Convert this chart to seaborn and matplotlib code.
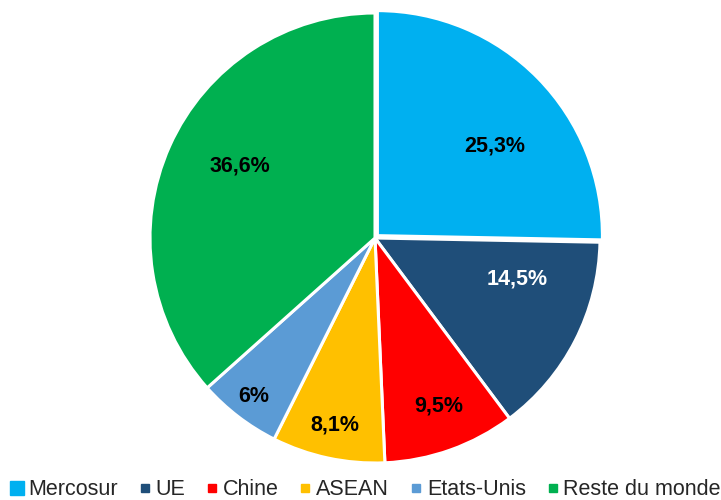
import matplotlib
matplotlib.use('Agg')
import matplotlib.pyplot as plt
import seaborn as sns
import numpy as np
from matplotlib.lines import Line2D

regions = ['Mercosur', 'UE', 'Chine', 'ASEAN', 'Etats-Unis', 'Reste du monde']
shares = [25.3, 14.5, 9.5, 8.1, 6.0, 36.6]
share_labels = ['25,3%', '14,5%', '9,5%', '8,1%', '6%', '36,6%']
colors = ['#00B0F0', '#1F4E79', '#FF0000', '#FFC000', '#5B9BD5', '#00B050']
label_colors = ['black', 'white', 'black', 'black', 'black', 'black']
# Excel places the labels at uneven distances from the centre
label_radius = [0.67, 0.66, 0.80, 0.85, 0.89, 0.68]
label_angle_shift = [-7, 11, 1, 0, 0, -4]

sns.set_style('white')
plt.rcParams['font.family'] = ['Liberation Sans', 'DejaVu Sans']

fig = plt.figure(figsize=(7.21, 5.0), dpi=100)
ax = fig.add_axes([150 / 721, (500 - 463) / 500, 450 / 721, 450 / 500])
wedges, _ = ax.pie(shares, colors=colors, startangle=90, counterclock=False,
                   explode=[0.015, 0, 0, 0, 0, 0],
                   wedgeprops=dict(edgecolor='white', linewidth=2.2))
ax.set_xlim(-1, 1)
ax.set_ylim(-1, 1)
ax.set_aspect('auto')
ax.axis('off')

for w, txt, col, r, shift in zip(wedges, share_labels, label_colors, label_radius, label_angle_shift):
    ang = np.deg2rad((w.theta1 + w.theta2) / 2 + shift)
    ax.text(r * np.cos(ang), r * np.sin(ang), txt, ha='center', va='center',
            fontsize=15.5, fontweight='bold', color=col)

handles = [Line2D([], [], marker='s', linestyle='none', color=c,
                  markersize=10 if i == 0 else 6)
           for i, c in enumerate(colors)]
fig.legend(handles, regions, loc='lower left', bbox_to_anchor=(-0.003, -0.018), ncol=6,
           frameon=False, fontsize=15.5, handletextpad=0.0, columnspacing=0.75,
           handlelength=1.0, borderaxespad=0)

fig.savefig('out.png', dpi=100)
